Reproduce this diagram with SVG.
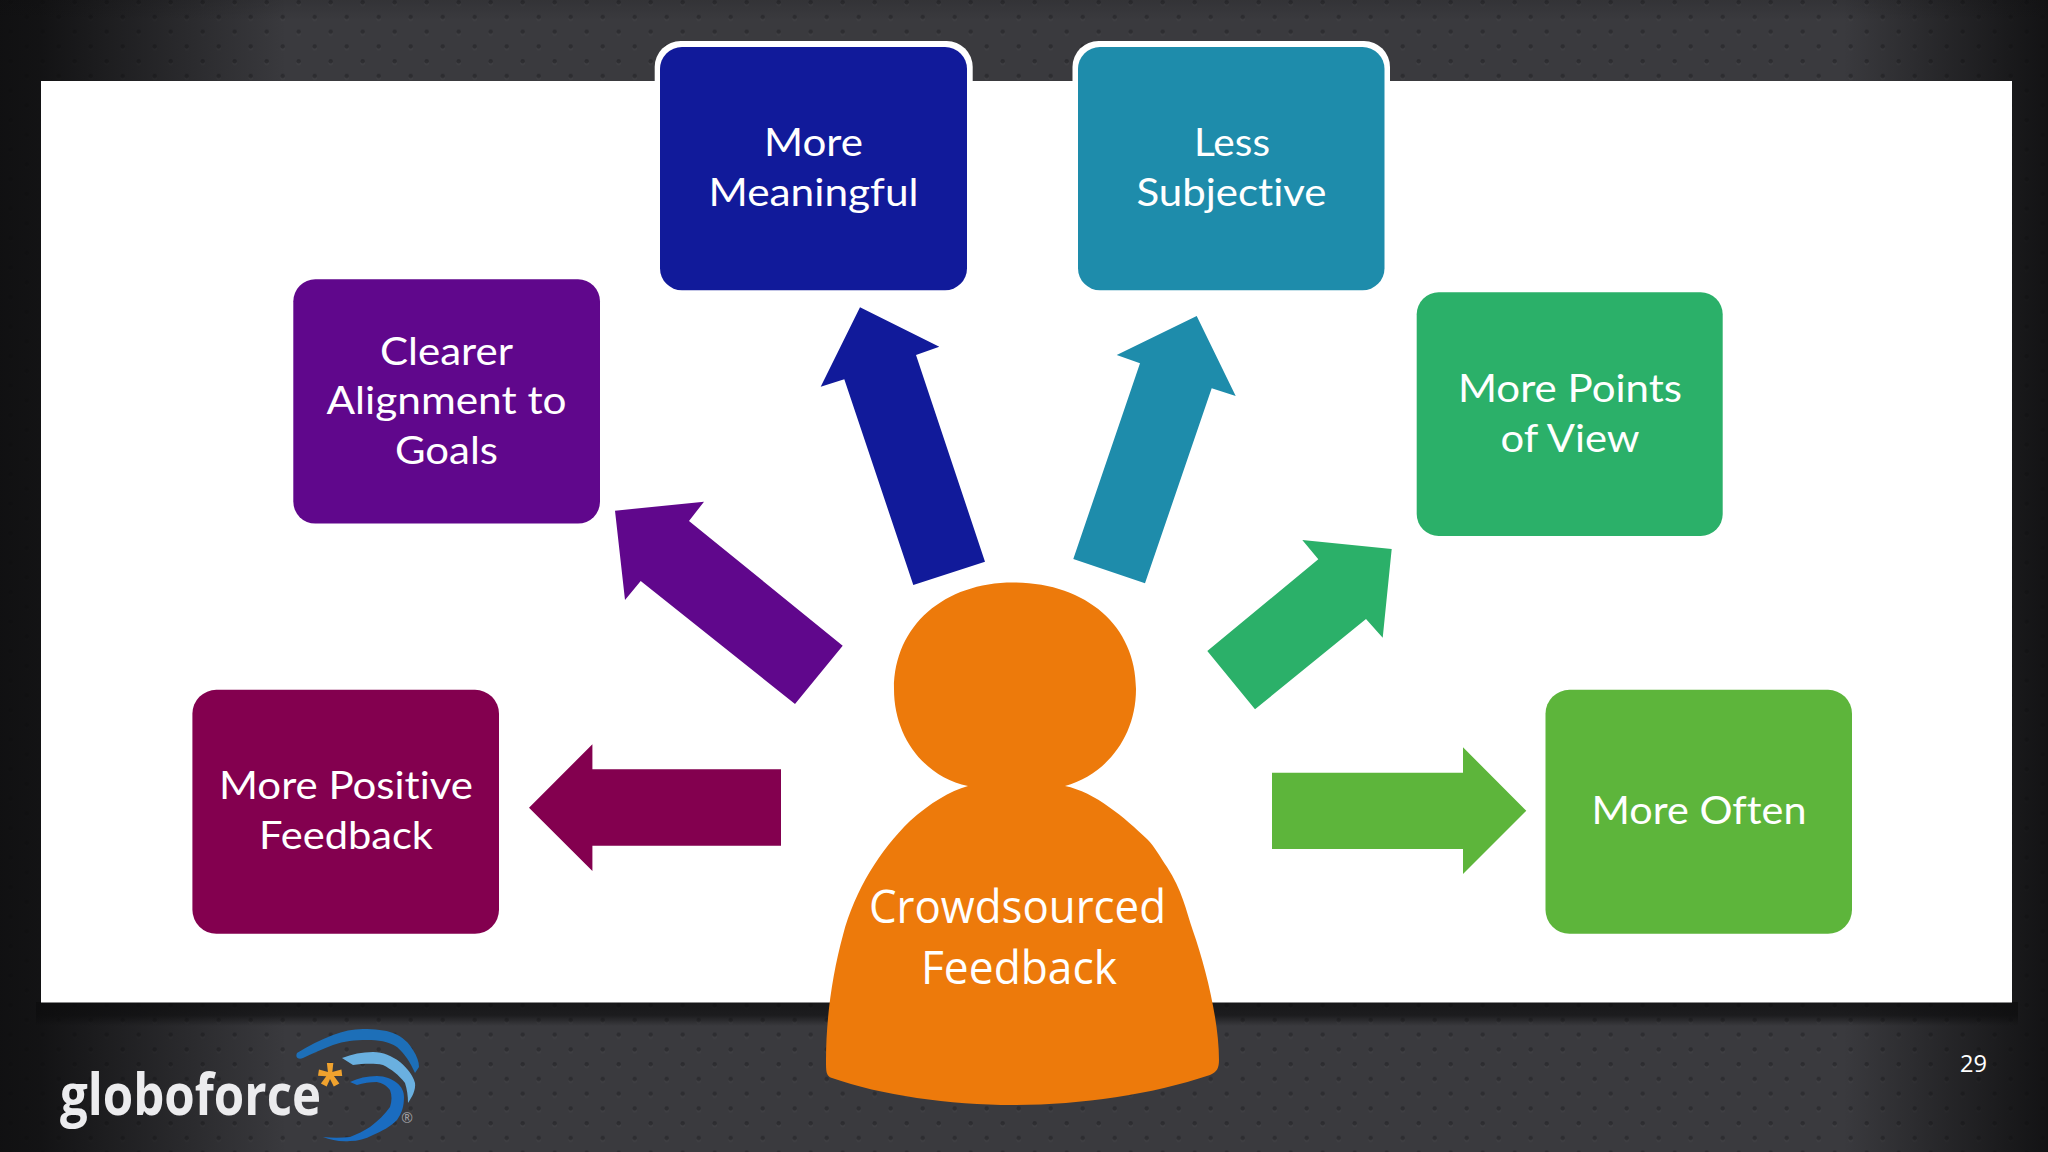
<svg xmlns="http://www.w3.org/2000/svg" width="2048" height="1152" viewBox="0 0 2048 1152">
<style>
.t{font-family:"Lato","Open Sans",sans-serif;font-size:38.5px;fill:#fff;font-weight:400;font-variant-ligatures:none}
.c{font-family:"Open Sans","Noto Sans",sans-serif;font-size:45px;fill:#fff}
.box{stroke:none}
.plum{fill:#83004f}.purple{fill:#60078c}.blue{fill:#111a9a}.teal{fill:#1e8cab}.green{fill:#2bb069}.lime{fill:#5db53b}
</style>
<defs>
<pattern id="dots" width="32" height="29.5" patternUnits="userSpaceOnUse">
<circle cx="10.7" cy="4.2" r="2.2" fill="#4a4a4e" opacity=".35"/>
<circle cx="26.7" cy="18.9" r="2.2" fill="#4a4a4e" opacity=".35"/>
<circle cx="10.7" cy="2.2" r="2.2" fill="#232326" opacity=".6"/>
<circle cx="26.7" cy="16.9" r="2.2" fill="#232326" opacity=".6"/>
</pattern>
<linearGradient id="sideShade" x1="0" x2="1" y1="0" y2="0">
<stop offset="0" stop-color="#0c0c0d" stop-opacity=".9"/>
<stop offset=".02" stop-color="#0c0c0d" stop-opacity=".85"/>
<stop offset=".14" stop-color="#0c0c0d" stop-opacity="0"/>
<stop offset=".9" stop-color="#0c0c0d" stop-opacity="0"/>
<stop offset=".975" stop-color="#0c0c0d" stop-opacity=".65"/>
<stop offset="1" stop-color="#0c0c0d" stop-opacity=".85"/>
</linearGradient>
<linearGradient id="underShade" x1="0" x2="0" y1="0" y2="1">
<stop offset="0" stop-color="#0c0c0d" stop-opacity=".75"/>
<stop offset=".55" stop-color="#0c0c0d" stop-opacity=".65"/>
<stop offset="1" stop-color="#0c0c0d" stop-opacity="0"/>
</linearGradient>
<linearGradient id="topShade" x1="0" x2="0" y1="0" y2="1">
<stop offset="0" stop-color="#0c0c0d" stop-opacity=".15"/>
<stop offset="1" stop-color="#0c0c0d" stop-opacity="0"/>
</linearGradient>
</defs>

<g id="background">
<rect width="2048" height="1152" fill="#3a3a3e"/>
<rect width="2048" height="1152" fill="url(#dots)"/>
<rect width="2048" height="1152" fill="url(#sideShade)"/>
<rect y="0" width="2048" height="20" fill="url(#topShade)"/>
<rect x="36" y="1002" width="1982" height="24" fill="url(#underShade)"/>
<rect x="41" y="81" width="1971" height="921.5" fill="#fff"/>
</g>

<g id="logo">
<text x="60" y="1115" font-family="Open Sans, sans-serif" font-weight="700" font-size="57" fill="#ececee" textLength="261" lengthAdjust="spacingAndGlyphs">globoforce</text>
<text x="330" y="1101" text-anchor="middle" font-family="Open Sans, sans-serif" font-weight="700" font-size="50" fill="#f0a22e">*</text>
<path fill="#1d6fb8" d="M297,1053 C308,1046 320,1040 333,1035 C343,1031 353,1029 363,1029 C375,1029 385,1030 393,1033 C403,1037 409,1043 413,1050 C417,1056 419,1062 419,1067 L415,1073 C410,1062 405,1054 397,1047 C388,1041 378,1040 367,1040 C355,1040 344,1041 333,1045 C322,1049 312,1054 303,1058 C298,1060 295,1057 297,1053Z"/>
<path fill="#6ab0e0" d="M342,1058 C352,1054 362,1052 373,1052 C383,1052 392,1056 400,1062 C407,1068 413,1075 415,1083 C416,1090 412,1097 408,1103 C408,1096 407,1089 405,1083 C399,1075 391,1069 383,1065 C373,1063 362,1064 353,1065Z"/>
<path fill="#1a6cc0" d="M350,1082 C358,1078 367,1076 377,1076 C385,1076 392,1079 397,1083 C402,1087 404,1092 404,1097 C404,1106 402,1113 397,1120 C390,1127 382,1131 373,1135 C365,1139 358,1141 350,1141 C340,1142 331,1140 323,1137 C332,1138 341,1138 350,1137 C357,1134 364,1131 370,1127 C378,1121 385,1114 390,1107 C392,1101 392,1095 390,1090 C386,1085 382,1083 377,1082 C370,1082 363,1083 357,1085Z"/>
<text x="407" y="1123" text-anchor="middle" font-family="Open Sans, sans-serif" font-size="14" fill="#a0a0a4">®</text>
</g>

<text id="page-number" x="1960" y="1072" font-family="Open Sans, sans-serif" font-size="24" fill="#fff" textLength="27" lengthAdjust="spacingAndGlyphs">29</text>

<g id="connectors">
<polygon class="plum" points="529,807.7 592.4,744.3 592.4,769.3 781,769.3 781,845.7 592.4,845.7 592.4,871"/>
<polygon class="purple" points="615,510.7 704,501.7 689,521 842.7,645.7 795,704 640.7,581 625,600"/>
<polygon class="blue" points="860,307.3 939.3,346.7 916,355 985,561.7 913.3,585 844.3,379.3 820.7,386.7"/>
<polygon class="teal" points="1196.7,316 1235.7,396 1211.7,388.3 1145,583.3 1073.3,559 1140,363.3 1116.7,355"/>
<polygon class="green" points="1391.7,549 1302.3,540 1318.3,559.3 1207.3,651 1255,709.3 1366,619 1382.7,637.7"/>
<polygon class="lime" points="1526.3,810.7 1463,747.3 1463,772.7 1272,772.7 1272,849 1463,849 1463,874"/>
</g>

<g id="node-positive">
<rect class="box plum" x="192.4" y="689.8" width="306.6" height="244" rx="24"/>
<text class="t" x="219" y="799.3" textLength="254" lengthAdjust="spacingAndGlyphs">More Positive</text>
<text class="t" x="259" y="849.3" textLength="174" lengthAdjust="spacingAndGlyphs">Feedback</text>
</g>
<g id="node-alignment">
<rect class="box purple" x="293.3" y="279.3" width="306.7" height="244.3" rx="22"/>
<text class="t" x="380" y="365" textLength="133" lengthAdjust="spacingAndGlyphs">Clearer</text>
<text class="t" x="326.5" y="414" textLength="240" lengthAdjust="spacingAndGlyphs">Alignment to</text>
<text class="t" x="395" y="464" textLength="103" lengthAdjust="spacingAndGlyphs">Goals</text>
</g>
<g id="node-meaningful">
<rect x="654.7" y="41" width="318" height="100" rx="26" fill="#fff"/>
<rect class="box blue" x="660" y="47" width="307" height="243.3" rx="22"/>
<text class="t" x="764" y="155.7" textLength="99" lengthAdjust="spacingAndGlyphs">More</text>
<text class="t" x="708.5" y="205.7" textLength="210" lengthAdjust="spacingAndGlyphs">Meaningful</text>
</g>
<g id="node-subjective">
<rect x="1072.5" y="41" width="317.5" height="100" rx="26" fill="#fff"/>
<rect class="box teal" x="1078" y="47" width="306.5" height="243.3" rx="22"/>
<text class="t" x="1194" y="155.7" textLength="76" lengthAdjust="spacingAndGlyphs">Less</text>
<text class="t" x="1136.5" y="205.7" textLength="190" lengthAdjust="spacingAndGlyphs">Subjective</text>
</g>
<g id="node-points">
<rect class="box green" x="1416.7" y="292.3" width="306" height="243.7" rx="22"/>
<text class="t" x="1458" y="401.7" textLength="224" lengthAdjust="spacingAndGlyphs">More Points</text>
<text class="t" x="1500.5" y="451.7" textLength="139" lengthAdjust="spacingAndGlyphs">of View</text>
</g>
<g id="node-often">
<rect class="box lime" x="1545.5" y="689.8" width="306.5" height="244" rx="24"/>
<text class="t" x="1591.5" y="824.3" textLength="215" lengthAdjust="spacingAndGlyphs">More Often</text>
</g>
<g id="node-crowdsourced">
<path fill="#ed7a0b" d="M968,786 C925,777 894,738 894,689 C894,625 945,582.5 1013,582.5 C1085,582.5 1136,625 1136,689 C1136,738 1105,775 1065,786 C1095,792 1125,818 1147,839 C1155,847 1160,857 1167,867 C1182,890 1186,910 1193,931 C1205,965 1219,1020 1219,1060 C1219,1068 1217,1072 1210,1075 C1150,1095 1080,1105 1013,1105 C950,1105 880,1095 832,1078 C826,1076 826,1072 826,1060 C826,1020 832,975 843,935 C855,890 880,850 910,821 C930,803 950,791 968,786Z"/>
<text class="c" x="869" y="922.5" textLength="297" lengthAdjust="spacingAndGlyphs">Crowdsourced</text>
<text class="c" x="921" y="984" textLength="196" lengthAdjust="spacingAndGlyphs">Feedback</text>
</g>
</svg>
